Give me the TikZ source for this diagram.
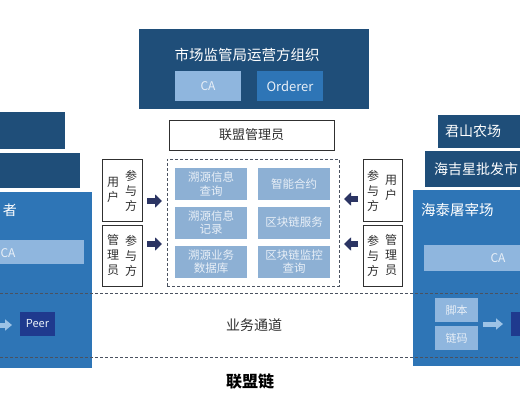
\documentclass[tikz,border=0pt]{standalone}
\usepackage{fontspec}
\setmainfont{Noto Sans CJK SC}
\usetikzlibrary{arrows.meta,calc}
\definecolor{darkblue}{HTML}{1F4E79}
\definecolor{midblue}{HTML}{2E75B6}
\definecolor{lightblue}{HTML}{9DC3E6}
\definecolor{cablue}{HTML}{8FB6DE}
\definecolor{cellblue}{HTML}{8DB0D4}
\definecolor{celltext}{HTML}{E8EFF7}
\definecolor{navy}{HTML}{2B3463}
\definecolor{peerblue}{HTML}{1F3A8E}
\definecolor{dashgray}{HTML}{4A5260}
\definecolor{txtgray}{HTML}{303030}
\tikzset{
  rbox/.style={rectangle, inner sep=0pt, outer sep=0pt},
  orgbox/.style={rbox, fill=darkblue},
  cabox/.style={rbox, fill=cablue, text=celltext, font=\fontsize{12}{14}\selectfont},
  cellbox/.style={rbox, fill=cellblue, text=celltext, align=center, minimum width=72pt, minimum height=32pt, font=\fontsize{11.5}{13.5}\selectfont},
  framebox/.style={rbox, draw=txtgray, line width=0.9pt, fill=white},
  vtext/.style={inner sep=0pt, align=center, text=txtgray, font=\fontsize{12}{15}\selectfont},
  wtext/.style={inner sep=0pt, text=white, font=\fontsize{14}{16}\selectfont},
  blockarrow/.style={navy, line width=6pt, -{Triangle[length=7pt,width=13pt]}, shorten <=5pt, shorten >=5pt},
  lightarrow/.style={lightblue, line width=5pt, -{Triangle[length=7pt,width=11pt]}},
  dashline/.style={dashgray, line width=1pt, dash pattern=on 3pt off 2pt},
}
\begin{document}
\begin{tikzpicture}[x=1pt,y=-1pt]
\useasboundingbox (0,0) rectangle (520,400);
\clip (0,0) rectangle (520,400);
\fill[white] (0,0) rectangle (520,400);

% top organisation
\node[orgbox, minimum width=230pt, minimum height=80pt] (org) at (254,69) {};
\node[wtext, font=\fontsize{14.5}{16}\selectfont] (orgtitle) at (247,55) {市场监管局运营方组织};
\node[cabox, minimum width=66pt, minimum height=30pt] (caTop) at (208,86) {CA};
\node[rbox, fill=midblue, text=celltext, font=\fontsize{13}{15}\selectfont, minimum width=66pt, minimum height=30pt] (orderer) at (290,86) {Orderer};

% admin bar
\node[framebox, minimum width=165pt, minimum height=30pt, font=\fontsize{13}{15}\selectfont, text=txtgray] (admin) at (251.5,135) {联盟管理员};

% dashed box with cells
\node[rbox, draw=dashgray, line width=1pt, dash pattern=on 3pt off 2pt, minimum width=172pt, minimum height=127pt] (dash) at (253,222.5) {};
\node[cellbox] (c11) at (211,184) {溯源信息\\查询};
\node[cellbox] (c12) at (294,184) {智能合约};
\node[cellbox] (c21) at (211,222.5) {溯源信息\\记录};
\node[cellbox] (c22) at (294,222.5) {区块链服务};
\node[cellbox] (c31) at (211,261.5) {溯源业务\\数据库};
\node[cellbox] (c32) at (294,261.5) {区块链监控\\查询};

% left participant boxes
\node[framebox, minimum width=40pt, minimum height=62pt] (uL) at (122,190) {};
\node[vtext] (uLa) at (113,190) {用\\户};
\node[vtext] (uLb) at (131,190.5) {参\\与\\方};
\node[framebox, minimum width=40pt, minimum height=61pt] (aL) at (122,255.5) {};
\node[vtext] (aLa) at (113,255) {管\\理\\员};
\node[vtext] (aLb) at (131,255.5) {参\\与\\方};

% right participant boxes
\node[framebox, minimum width=39pt, minimum height=62pt] (uR) at (382.5,190) {};
\node[vtext] (uRa) at (373,190.5) {参\\与\\方};
\node[vtext] (uRb) at (391,188) {用\\户};
\node[framebox, minimum width=39pt, minimum height=61pt] (aR) at (382.5,255.5) {};
\node[vtext] (aRa) at (373,255.5) {参\\与\\方};
\node[vtext] (aRb) at (391,255) {管\\理\\员};

% block arrows
\draw[blockarrow] (uL.east |- 0,201) -- (dash.west |- 0,201);
\draw[blockarrow] (aL.east |- 0,244) -- (dash.west |- 0,244);
\draw[blockarrow] (uR.west |- 0,199) -- (dash.east |- 0,199);
\draw[blockarrow] (aR.west |- 0,244) -- (dash.east |- 0,244);

% left organisation panels
\fill[darkblue] (-10,112) rectangle (65,149);
\fill[darkblue] (-10,153) rectangle (80,188);
\fill[midblue] (-10,192) rectangle (92,368);
\node[wtext, anchor=east] (leftTitle) at (17,210) {者};
\node[cabox, minimum width=94pt, minimum height=24pt] (caL) at (37,252) {};
\node[inner sep=0pt, text=celltext, font=\fontsize{12}{14}\selectfont] (caLt) at (8,253) {CA};
\node[rbox, fill=peerblue, text=celltext, font=\fontsize{11}{13}\selectfont, minimum width=35pt, minimum height=24pt] (peerL) at (37.5,324) {Peer};
\coordinate (lsrc) at (-10,325);
\draw[lightarrow, shorten >=8pt] (lsrc) -- (peerL.west |- lsrc);

% right organisation panels
\fill[darkblue] (438,115) rectangle (530,148);
\fill[darkblue] (425,151) rectangle (530,187);
\fill[midblue] (413,190) rectangle (530,366);
\node[wtext, anchor=west] (r1) at (445,131.5) {君山农场};
\node[wtext, anchor=west] (r2) at (434,169) {海吉星批发市};
\node[wtext, anchor=west, font=\fontsize{14.5}{16}\selectfont] (r3) at (421,210) {海泰屠宰场};
\node[cabox, minimum width=106pt, minimum height=26pt] (caR) at (477,258) {};
\node[inner sep=0pt, text=celltext, font=\fontsize{12}{14}\selectfont] (caRt) at (498,258) {CA};
\node[cabox, minimum width=43pt, minimum height=24pt, font=\fontsize{11}{13}\selectfont] (script) at (456.5,310) {脚本};
\node[cabox, minimum width=43pt, minimum height=24pt, font=\fontsize{11}{13}\selectfont] (chain) at (456.5,338) {链码};
\node[rbox, fill=peerblue, minimum width=30pt, minimum height=24pt] (peerR) at (526,324) {};
\coordinate (rsrc) at (478,324);
\draw[lightarrow, shorten <=5pt, shorten >=8pt] (rsrc) -- (peerR.west |- rsrc);

% dashed channel lines
\coordinate (d1a) at (0,293);
\coordinate (d1b) at (520,293);
\coordinate (d2a) at (0,357);
\coordinate (d2b) at (520,357);
\draw[dashline] (d1a) -- (d1b);
\draw[dashline] (d2a) -- (d2b);

\node[inner sep=0pt, text=txtgray, font=\fontsize{14}{16}\selectfont] (channel) at (254,325) {业务通道};
\node[inner sep=0pt, text=black, font=\fontsize{16}{18}\selectfont\bfseries] (chainname) at (250,381) {联盟链};
\end{tikzpicture}
\end{document}
